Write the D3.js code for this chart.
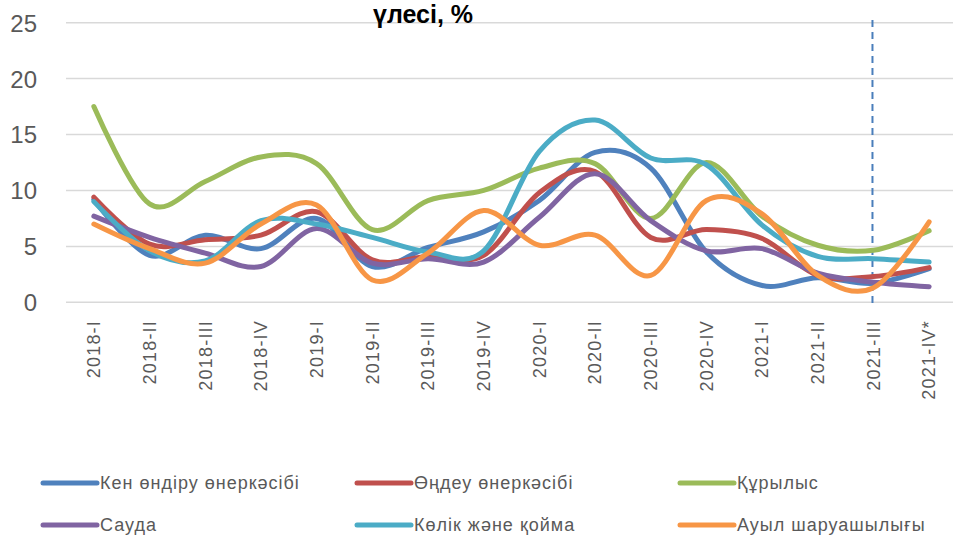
<!DOCTYPE html>
<html><head><meta charset="utf-8">
<script src="https://cdn.jsdelivr.net/npm/d3@7"></script>
<style>body{margin:0;background:#fff}svg{display:block}</style>
</head><body>
<svg id="c" width="953" height="535"></svg>
<script>
const categories = ["2018-I","2018-II","2018-III","2018-IV","2019-I","2019-II","2019-III","2019-IV","2020-I","2020-II","2020-III","2020-IV","2021-I","2021-II","2021-III","2021-IV*"];
const mining        = [9.2, 4.2, 6.0, 4.8, 7.5, 3.2, 4.9, 6.3, 9.1, 13.4, 12.0, 4.5, 1.5, 2.2, 1.7, 3.0];
const manufacturing = [9.4, 5.2, 5.6, 6.0, 8.1, 3.8, 4.1, 4.2, 9.8, 11.7, 5.8, 6.5, 5.7, 2.4, 2.3, 3.1];
const construction  = [17.5, 8.8, 10.8, 13.0, 12.4, 6.5, 9.1, 10.0, 12.0, 12.4, 7.5, 12.5, 7.7, 5.1, 4.65, 6.4];
const trade         = [7.7, 5.8, 4.4, 3.2, 6.6, 3.5, 3.9, 3.6, 7.6, 11.5, 7.3, 4.6, 4.8, 2.6, 1.8, 1.4];
const transport     = [9.0, 4.6, 3.7, 7.3, 7.0, 5.8, 4.5, 4.6, 13.5, 16.3, 12.9, 12.3, 6.9, 4.1, 3.9, 3.6];
const agriculture   = [7.0, 4.8, 3.5, 7.0, 8.7, 2.0, 4.4, 8.2, 5.1, 6.0, 2.4, 9.1, 7.9, 2.4, 1.3, 7.2];
const seriesNames = ["Кен өндіру өнеркәсібі","Өңдеу өнеркәсібі","Құрылыс","Сауда","Көлік және қойма","Ауыл шаруашылығы"];
const yTicks = [0, 5, 10, 15, 20, 25];
const titleText = "үлесі, %";
const markerCategory = "2021-III";

const seriesValues = [mining, manufacturing, construction, trade, transport, agriculture];
const colors = ["#4F81BD","#C0504D","#9BBB59","#8064A2","#4BACC6","#F79646"];

const svg = d3.select("#c");
const x = d3.scaleBand().domain(categories).range([66, 957]).padding(0);
const y = d3.scaleLinear().domain([0, 25]).range([302.3, 22.7]);
const gray = "#595959";

// gridlines
svg.append("g").selectAll("line").data(yTicks).join("line")
  .attr("x1", 66).attr("x2", 953)
  .attr("y1", d => y(d)).attr("y2", d => y(d))
  .attr("stroke", "#d9d9d9").attr("stroke-width", 1.5);

// y axis labels
const yAxis = d3.axisLeft(y).tickValues(yTicks).tickSize(0).tickPadding(0);
const gy = svg.append("g").attr("transform", "translate(37,0)").call(yAxis);
gy.select(".domain").remove();
gy.selectAll("text").attr("font-family", "Liberation Sans, Arial, sans-serif")
  .attr("font-size", 24).attr("fill", gray).attr("dy", "0.35em");

// x axis labels
const xAxis = d3.axisBottom(x).tickSize(0).tickPadding(0);
const gx = svg.append("g").attr("transform", "translate(0,320)").call(xAxis);
gx.select(".domain").remove();
gx.selectAll("text")
  .attr("font-family", "Liberation Sans, Arial, sans-serif")
  .attr("font-size", 18).attr("fill", gray)
  .attr("letter-spacing", "1.2px")
  .attr("text-anchor", "end")
  .attr("transform", "rotate(-90)")
  .attr("x", 0).attr("y", 0).attr("dy", "0.35em");

// title (partially visible second line)
svg.append("text").attr("x", 373).attr("y", 23)
  .attr("font-family", "Liberation Sans, Arial, sans-serif")
  .attr("font-weight", "bold").attr("font-size", 26).attr("fill", "#000")
  .attr("textLength", 100).attr("lengthAdjust", "spacingAndGlyphs")
  .text(titleText);

// dashed marker
const mx = x(markerCategory) + x.bandwidth() / 2 - 1;
svg.append("line").attr("x1", mx).attr("x2", mx).attr("y1", 20).attr("y2", 308)
  .attr("stroke", "#4a7ebb").attr("stroke-width", 2).attr("stroke-dasharray", "7,5");

// lines
const line = d3.line()
  .x((d, i) => x(categories[i]) + x.bandwidth() / 2)
  .y(d => y(d))
  .curve(d3.curveCatmullRom.alpha(0));
svg.append("g").selectAll("path").data(seriesValues).join("path")
  .attr("d", d => line(d))
  .attr("fill", "none")
  .attr("stroke", (d, i) => colors[i])
  .attr("stroke-width", 5)
  .attr("stroke-linecap", "round").attr("stroke-linejoin", "round");

// legend
const legX = [43, 357, 680];
const legY = [483, 525];
const lg = svg.append("g").selectAll("g").data(seriesNames).join("g")
  .attr("transform", (d, i) => `translate(${legX[i % 3]},${legY[Math.floor(i / 3)]})`);
lg.append("line").attr("x1", 0).attr("x2", 54).attr("y1", 0).attr("y2", 0)
  .attr("stroke", (d, i) => colors[i]).attr("stroke-width", 5).attr("stroke-linecap", "round");
lg.append("text").attr("x", 57).attr("y", 0).attr("dy", "0.35em")
  .attr("font-family", "Liberation Sans, Arial, sans-serif")
  .attr("font-size", 18).attr("fill", gray).attr("letter-spacing", "1px")
  .text(d => d);
</script>
</body></html>
